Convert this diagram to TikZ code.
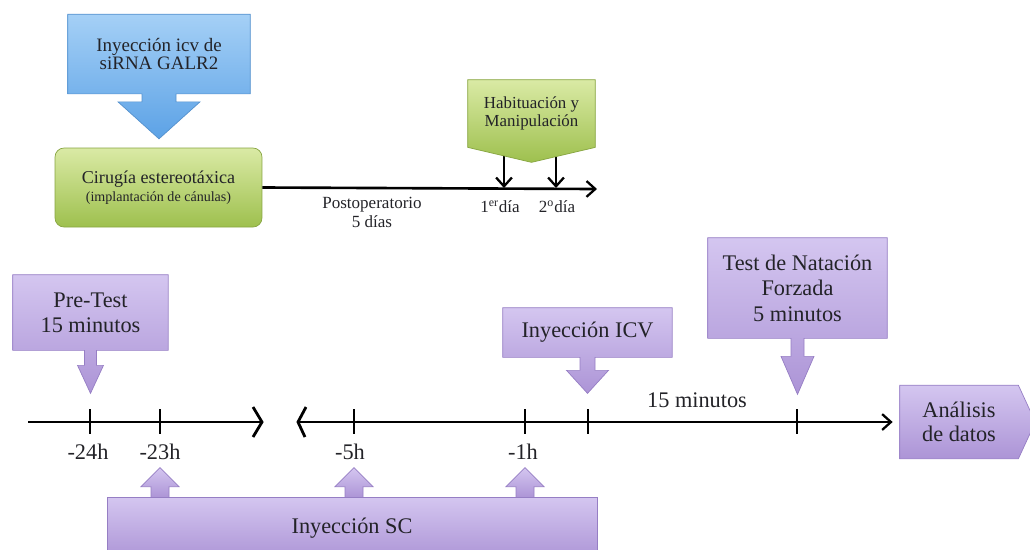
\documentclass[tikz,border=0pt]{standalone}
\usepackage{fontspec}
\setmainfont{Liberation Serif}
\usetikzlibrary{arrows.meta,calc,backgrounds}
\definecolor{bluetop}{RGB}{165,208,246}
\definecolor{bluebot}{RGB}{92,162,230}
\definecolor{bluebd}{RGB}{85,145,205}
\definecolor{greentop}{RGB}{218,234,165}
\definecolor{greenbot}{RGB}{158,192,78}
\definecolor{greenbd}{RGB}{135,165,65}
\definecolor{lilactop}{RGB}{212,198,240}
\definecolor{lilacbot}{RGB}{172,148,214}
\definecolor{lilacbd}{RGB}{150,126,196}
\definecolor{ink}{RGB}{35,35,40}
\begin{document}
\begin{tikzpicture}[x=0.02cm, y=-0.02cm,
    txt/.style={inner sep=0pt, align=center, text=ink},
    blueshape/.style={top color=bluetop, bottom color=bluebot, draw=bluebd, line width=0.4pt},
    greenshape/.style={top color=greentop, bottom color=greenbot, draw=greenbd, line width=0.4pt},
    lilacshape/.style={top color=lilactop, bottom color=lilacbot, draw=lilacbd, line width=0.4pt},
    axis/.style={line width=1.6pt},
    tick/.style={line width=1.4pt},
    arrow/.style={-{Straight Barb[length=5pt,width=9pt,line width=1.3pt]}, line width=1.5pt}
]
\useasboundingbox (0,0) rectangle (1030,549);

% Top part: surgery and habituation
\node[txt, minimum width=3.64cm, minimum height=1.58cm, font=\fontsize{10.8}{10.4}\selectfont] (sirna) at (159,54) {Inyección icv de\\siRNA GALR2};
\node[txt, minimum width=4.14cm, minimum height=1.58cm, greenshape, rounded corners=0.18cm, font=\fontsize{8}{10.2}\selectfont] (cir) at (158.5,187.5) {{\fontsize{10.3}{10.2}\selectfont Cirugía estereotáxica}\\(implantación de cánulas)};
\node[txt, minimum width=2.54cm, minimum height=1.34cm, font=\fontsize{9.6}{10.2}\selectfont] (hab) at (531.5,113.5) {Habituación y\\Manipulación};

\coordinate (topend) at (597,189);
\coordinate (d1) at (504,188);
\coordinate (d2) at (556,188);

\node[txt, font=\fontsize{9.7}{10.8}\selectfont] (post) at (372,212) {Postoperatorio\\5 días};
\node[txt, font=\fontsize{9.7}{11}\selectfont] (dia1) at (500,207) {1\textsuperscript{er}día};
\node[txt, font=\fontsize{9.7}{11}\selectfont] (dia2) at (557,207) {2\textsuperscript{o}día};

\draw[arrow] (cir.east) -- (topend);

% Bottom part: test timeline
\coordinate (tstart) at (28,422);
\coordinate (brkL) at (262,422);
\coordinate (brkR) at (298,422);
\coordinate (t24) at (90,422);
\coordinate (t23) at (160,422);
\coordinate (t5) at (354,422);
\coordinate (t1) at (525,422);
\coordinate (ticv) at (588,422);
\coordinate (tfst) at (797,422);

\node[txt, minimum width=3.1cm, minimum height=1.5cm, font=\fontsize{12.7}{14.2}\selectfont] (pre) at (90.5,312.5) {Pre-Test\\15 minutos};
\node[txt, minimum width=3.38cm, minimum height=0.98cm, font=\fontsize{12.7}{14.2}\selectfont] (icv) at (587.5,332.5) {Inyección ICV};
\node[txt, minimum width=3.58cm, minimum height=2.0cm, font=\fontsize{12.7}{14.6}\selectfont] (fst) at (797.5,288) {Test de Natación\\Forzada\\5 minutos};
\node[txt, minimum width=2.36cm, minimum height=1.46cm, font=\fontsize{12.7}{13.6}\selectfont] (ana) at (959,422) {Análisis\\de datos};
\node[txt, minimum width=9.8cm, minimum height=1.26cm, lilacshape, font=\fontsize{12.7}{14.2}\selectfont] (sc) at (352,528.5) {Inyección SC};

\node[txt, font=\fontsize{12.7}{14}\selectfont] (h24) at (88,452) {-24h};
\node[txt, font=\fontsize{12.7}{14}\selectfont] (h23) at (160,452) {-23h};
\node[txt, font=\fontsize{12.7}{14}\selectfont] (h5) at (350,452) {-5h};
\node[txt, font=\fontsize{12.7}{14}\selectfont] (h1) at (523,452) {-1h};
\node[txt, font=\fontsize{12.7}{14}\selectfont] (quince) at (697,400) {15 minutos};

\draw[axis] (tstart) -- (brkL);
\draw[axis] (253,407) -- (brkL) -- (253,437);
\draw[axis] (306,407) -- (brkR) -- (305,437);
\draw[arrow, axis, shorten >=4pt] (brkR) -- (ana.west);
\foreach \t in {t24,t23,t5,t1,ticv,tfst}
  \draw[tick] ($(\t)+(0,-13)$) -- ($(\t)+(0,12)$);

% shapes behind the texts
\begin{pgfonlayer}{background}
\path[blueshape] (sirna.north west) -- (sirna.north east) -- (sirna.south east)
  -- ($(sirna.south)+(17,0)$) -- ++(0,8) -- ++(24,0) -- ($(sirna.south)+(0,45)$)
  -- ++(-41,-37) -- ++(24,0) -- ++(0,-8) -- (sirna.south west) -- cycle;
\draw[arrow] (hab.south -| d1) -- (d1);
\draw[arrow] (hab.south -| d2) -- (d2);
\path[greenshape] (hab.north west) -- (hab.north east) -- (hab.south east)
  -- ($(hab.south)+(0,15)$) -- (hab.south west) -- cycle;
\path[lilacshape] (pre.north west) -- (pre.north east) -- (pre.south east)
  -- ($(pre.south)+(6,0)$) -- ++(0,15) -- ++(7,0) -- ($(pre.south)+(0,43)$)
  -- ++(-13,-28) -- ++(7,0) -- ++(0,-15) -- (pre.south west) -- cycle;
\path[lilacshape] (icv.north west) -- (icv.north east) -- (icv.south east)
  -- ($(icv.south)+(7.5,0)$) -- ++(0,13) -- ++(13.5,0) -- ($(icv.south)+(0,36)$)
  -- ++(-21,-23) -- ++(13.5,0) -- ++(0,-13) -- (icv.south west) -- cycle;
\path[lilacshape] (fst.north west) -- (fst.north east) -- (fst.south east)
  -- ($(fst.south)+(6.5,0)$) -- ++(0,18) -- ++(10,0) -- ($(fst.south)+(0,56)$)
  -- ++(-16.5,-38) -- ++(10,0) -- ++(0,-18) -- (fst.south west) -- cycle;
\path[lilacshape] (ana.north west) -- (ana.north east) -- ($(ana.east)+(17,0)$)
  -- (ana.south east) -- (ana.south west) -- cycle;
\foreach \t in {t23,t5,t1}
  \path[lilacshape] ($(sc.north -| \t)+(-9,1)$) -- ++(0,-11) -- ++(-10,0) -- ++(19,-19)
    -- ++(19,19) -- ++(-10,0) -- ++(0,11) -- cycle;
\end{pgfonlayer}
\end{tikzpicture}
\end{document}
